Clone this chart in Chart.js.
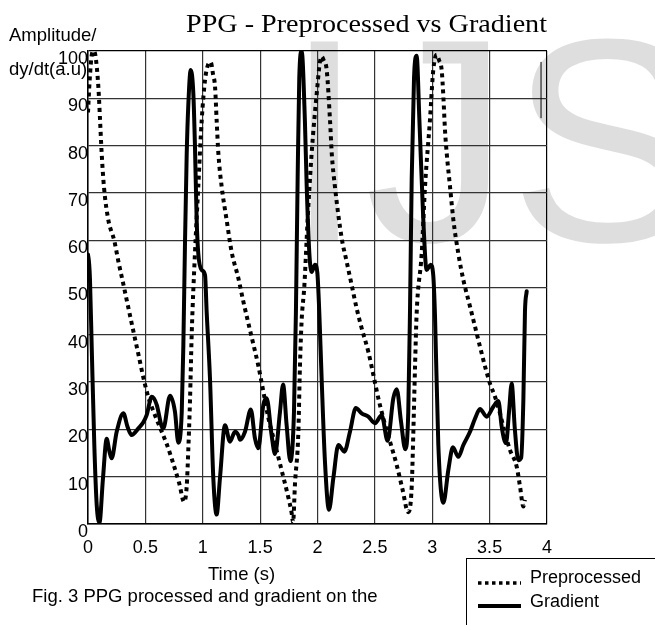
<!DOCTYPE html>
<html lang="en">
<head>
<meta charset="UTF-8">
<title>PPG - Preprocessed vs Gradient</title>
<script src="https://cdn.jsdelivr.net/npm/chart.js"></script>
<style>
  html, body { margin: 0; padding: 0; background: #fff; }
</style>
</head>
<body>
<canvas id="ppgChart" width="655" height="625"></canvas>
<script>
// preprocessed PPG (dotted)
const preTime = [0.000, 0.015, 0.035, 0.050, 0.065, 0.090, 0.105, 0.119, 0.139, 0.177, 0.229, 0.264, 0.308, 0.351, 0.395, 0.439, 0.482, 0.526, 0.569, 0.627, 0.686, 0.744, 0.796, 0.837, 0.860, 0.874, 0.889, 0.904, 0.932, 0.961, 0.991, 1.020, 1.045, 1.070, 1.090, 1.107, 1.121, 1.136, 1.165, 1.208, 1.252, 1.310, 1.354, 1.397, 1.441, 1.484, 1.528, 1.571, 1.629, 1.688, 1.746, 1.775, 1.787, 1.804, 1.833, 1.847, 1.862, 1.885, 1.914, 1.949, 1.999, 2.020, 2.036, 2.055, 2.080, 2.109, 2.124, 2.152, 2.211, 2.254, 2.298, 2.341, 2.385, 2.443, 2.487, 2.530, 2.574, 2.632, 2.690, 2.739, 2.791, 2.821, 2.835, 2.850, 2.864, 2.908, 2.937, 2.980, 3.009, 3.039, 3.060, 3.082, 3.097, 3.111, 3.126, 3.155, 3.184, 3.227, 3.271, 3.329, 3.373, 3.416, 3.460, 3.503, 3.547, 3.590, 3.634, 3.678, 3.736, 3.765, 3.794, 3.808];
const preValues = [87, 94, 99.5, 100, 99, 92.5, 85.4, 78.4, 71.3, 64.3, 59.9, 55.6, 50.7, 45.8, 40.8, 35.9, 31, 26.8, 23.9, 20.4, 16.9, 12.7, 8.5, 4.7, 7.9, 15.6, 26.2, 40.3, 57.2, 71.3, 85.4, 93.9, 97, 97.6, 95, 92.5, 85.4, 78.4, 71.3, 64.3, 57.5, 52, 47, 42.5, 38, 33.5, 28, 22.5, 17, 11.3, 5.6, 2.3, 0.3, 8.6, 19.2, 33.3, 43.1, 50.2, 64.3, 78.4, 92.5, 97.5, 98.8, 98, 96, 85.4, 78.4, 71.3, 60.4, 55.5, 50.5, 45.6, 41.4, 36.4, 31.5, 26.6, 22.3, 17.4, 12.5, 7.5, 2.5, 7.9, 19.2, 33.3, 44.5, 57.2, 71.3, 85.4, 96, 99.2, 98, 96, 90.3, 83.3, 78.4, 71.3, 64.3, 57.2, 51.6, 46, 41.7, 37.5, 33.3, 29.7, 26.9, 23.4, 19.2, 15.6, 12.1, 7.9, 3.7, 5.1];

// gradient dy/dt (solid)
const gradTime = [0.000, 0.010, 0.017, 0.032, 0.055, 0.076, 0.100, 0.130, 0.163, 0.185, 0.206, 0.250, 0.308, 0.345, 0.380, 0.439, 0.482, 0.511, 0.555, 0.599, 0.640, 0.656, 0.715, 0.758, 0.787, 0.817, 0.831, 0.845, 0.860, 0.874, 0.895, 0.918, 0.932, 0.947, 0.961, 0.991, 1.020, 1.034, 1.063, 1.092, 1.121, 1.150, 1.194, 1.237, 1.281, 1.310, 1.325, 1.368, 1.419, 1.455, 1.484, 1.528, 1.557, 1.600, 1.630, 1.673, 1.700, 1.731, 1.763, 1.795, 1.812, 1.827, 1.841, 1.862, 1.890, 1.906, 1.929, 1.949, 1.978, 1.999, 2.016, 2.036, 2.065, 2.100, 2.138, 2.182, 2.234, 2.283, 2.334, 2.385, 2.443, 2.501, 2.559, 2.611, 2.661, 2.690, 2.728, 2.765, 2.791, 2.806, 2.821, 2.841, 2.864, 2.888, 2.922, 2.951, 2.986, 3.009, 3.024, 3.053, 3.097, 3.140, 3.180, 3.227, 3.271, 3.329, 3.373, 3.416, 3.474, 3.532, 3.576, 3.605, 3.625, 3.643, 3.670, 3.692, 3.720, 3.750, 3.775, 3.794, 3.808, 3.823];
const gradValues = [57, 55, 51.9, 37.8, 16.7, 4, 0.3, 9.5, 18, 15.5, 13.9, 19.5, 23.4, 20.5, 18.8, 20.2, 21.5, 23, 26.9, 25.2, 20.8, 20.2, 27.1, 23.7, 17.2, 23.7, 37.8, 59, 78, 88.5, 96, 91, 80, 64.3, 57.2, 53.7, 52.6, 44.9, 30.8, 9.7, 2, 9.7, 20.9, 17.4, 19.5, 18.8, 17.8, 19.5, 24.2, 18.1, 16, 25.2, 26.6, 18.8, 14.8, 23.7, 29.5, 20.9, 13.3, 23.7, 44.9, 73.1, 94.2, 100, 85.4, 71.3, 57.2, 53.3, 54.8, 53, 44.5, 30.8, 13.2, 3, 9.7, 16.7, 15.3, 19.5, 24.5, 23.4, 22.7, 21.3, 23, 17.6, 26.6, 28.5, 21.6, 15.8, 23.7, 44.9, 73.1, 94.2, 99, 85.4, 64.3, 53.7, 54.8, 52.5, 44, 16.7, 4.5, 11.4, 16.2, 14.2, 16.7, 19.5, 22.3, 24.3, 22.7, 24.8, 26, 20.6, 18, 17.1, 24, 29.7, 20, 13.5, 14, 26.2, 44.9, 49.2];

// stray thin mark near the top right of the plot
const markTime = [3.948, 3.948];
const markValues = [85.8, 97.7];

const xTickValues = [0, 0.5, 1, 1.5, 2, 2.5, 3, 3.5, 4];
const xTickLabels = ['0', '0.5', '1', '1.5', '2', '2.5', '3', '3.5', '4'];
const yTickValues = [0, 10, 20, 30, 40, 50, 60, 70, 80, 90, 100];
const yTickLabels = ['0', '10', '20', '30', '40', '50', '60', '70', '80', '90', '100'];
const seriesNames = ['Preprocessed', 'Gradient'];

const SANS = '"Liberation Sans", Arial, sans-serif';

function pairs(xs, ys) {
  return xs.map((x, i) => ({ x: x, y: ys[i] }));
}

// big faint watermark behind the grid
const watermark = {
  id: 'watermark',
  beforeDraw(chart) {
    const ctx = chart.ctx;
    ctx.save();
    ctx.fillStyle = '#dedede';
    ctx.font = '290px ' + SANS;
    ctx.textBaseline = 'alphabetic';
    ctx.fillText('IJS', 284, 241);
    ctx.restore();
  }
};

// title, axis labels, caption and the boxed legend
const decorations = {
  id: 'decorations',
  afterDraw(chart) {
    const ctx = chart.ctx;
    ctx.save();
    ctx.fillStyle = '#000';
    ctx.textBaseline = 'alphabetic';

    // title in a serif face, stretched to the reference width
    ctx.font = '25px "Liberation Serif", "Times New Roman", serif';
    const title = 'PPG - Preprocessed vs Gradient';
    const w = ctx.measureText(title).width;
    ctx.save();
    ctx.translate(186, 32);
    ctx.scale(361 / w, 1);
    ctx.fillText(title, 0, 0);
    ctx.restore();

    ctx.font = '18.5px ' + SANS;
    ctx.fillText('Amplitude/', 9, 41);
    ctx.fillText('dy/dt(a.u)', 9, 75);
    ctx.fillText('Time (s)', 208, 580);
    ctx.fillText('Fig. 3 PPG processed and gradient on the', 32, 602);

    // legend box
    ctx.strokeStyle = '#000';
    ctx.lineWidth = 1;
    ctx.strokeRect(466.5, 558.5, 200, 80);
    const ds = chart.data.datasets;
    const rows = [583, 606];
    [0, 1].forEach(i => {
      const dotted = ds[i].borderDash && ds[i].borderDash.length;
      ctx.beginPath();
      ctx.setLineDash(dotted ? [3.5, 3.5] : []);
      ctx.lineWidth = dotted ? 3.5 : 4;
      ctx.moveTo(478, rows[i]);
      ctx.lineTo(521, rows[i]);
      ctx.stroke();
    });
    ctx.setLineDash([]);
    ctx.font = '18px ' + SANS;
    ctx.fillText(ds[0].label, 530, 583);
    ctx.fillText(ds[1].label, 530, 607);
    ctx.restore();
  }
};

const ctx = document.getElementById('ppgChart').getContext('2d');
new Chart(ctx, {
  type: 'line',
  data: {
    datasets: [
      {
        label: seriesNames[0],
        data: pairs(preTime, preValues),
        borderColor: '#000',
        borderWidth: 4,
        borderDash: [4, 4],
        borderCapStyle: 'butt',
        pointRadius: 0,
        cubicInterpolationMode: 'monotone',
        fill: false
      },
      {
        label: seriesNames[1],
        data: pairs(gradTime, gradValues),
        borderColor: '#000',
        borderWidth: 4,
        borderJoinStyle: 'round',
        borderCapStyle: 'round',
        pointRadius: 0,
        cubicInterpolationMode: 'monotone',
        fill: false
      },
      {
        label: 'mark',
        data: pairs(markTime, markValues),
        borderColor: '#000',
        borderWidth: 1,
        pointRadius: 0,
        fill: false
      }
    ]
  },
  options: {
    responsive: false,
    animation: false,
    devicePixelRatio: 1,
    layout: { padding: { left: 0, right: 108, top: 51, bottom: 0 } },
    plugins: {
      legend: { display: false },
      title: { display: false },
      tooltip: { enabled: false }
    },
    scales: {
      x: {
        type: 'linear',
        min: 0,
        max: 4,
        afterFit: s => { s.height = 101; },
        afterBuildTicks: s => { s.ticks = xTickValues.map(v => ({ value: v })); },
        ticks: {
          padding: 13,
          maxRotation: 0,
          color: '#000',
          font: { family: SANS, size: 18 },
          callback: v => xTickLabels[xTickValues.indexOf(v)]
        },
        grid: {
          drawTicks: false,
          color: c => (c.tick && c.tick.value === 4) ? '#000' : '#333',
          lineWidth: 1.2
        },
        border: { color: '#000', width: 1.5 }
      },
      y: {
        type: 'linear',
        min: 0,
        max: 100,
        afterFit: s => { s.width = 88; },
        afterBuildTicks: s => { s.ticks = yTickValues.map(v => ({ value: v })); },
        ticks: {
          padding: 0,
          labelOffset: 8,
          color: '#000',
          font: { family: SANS, size: 18 },
          callback: v => yTickLabels[yTickValues.indexOf(v)]
        },
        grid: {
          drawTicks: false,
          color: c => (c.tick && c.tick.value === 100) ? '#000' : '#333',
          lineWidth: 1.2
        },
        border: { color: '#000', width: 1.5 }
      }
    }
  },
  plugins: [watermark, decorations]
});
</script>
</body>
</html>
